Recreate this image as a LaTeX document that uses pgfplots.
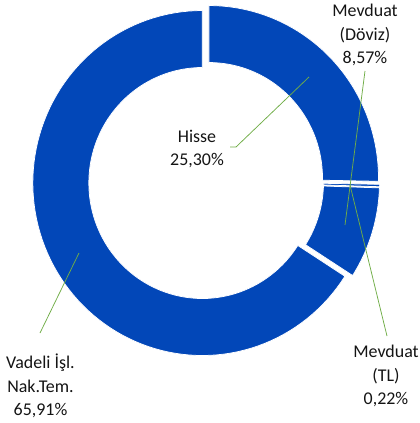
\documentclass[border=0pt]{standalone}
\usepackage{pgfplots}
\usepackage{pgfplotstable}
\pgfplotsset{compat=1.18}
\usepackage{fontspec}
\setmainfont{Carlito}
\definecolor{donutblue}{RGB}{2,71,184}
\definecolor{leadgreen}{RGB}{112,173,71}
\definecolor{txt}{RGB}{20,20,20}

\pgfplotstableread[col sep=comma]{
name,value
Hisse,25.30
MevduatTL,0.22
MevduatDoviz,8.57
Vadeli,65.91
}\donutdata

% geometry in pixel units (y downwards)
\def\cx{206}\def\cy{181}
\def\Rx{169.5}\def\Ry{172.5}
\def\rx{113.5}\def\ry{115.5}
\def\ex{4.2}

\newcommand{\ringslice}[2]{%
  \pgfmathsetmacro\ma{((#1)+(#2))/2}%
  \pgfmathsetmacro\ox{\cx+\ex*cos(\ma)}%
  \pgfmathsetmacro\oy{\cy-\ex*sin(\ma)}%
  \addplot[fill=donutblue, draw=white, line width=0.75bp, domain=0:3, samples=301, variable=\t]
  ({\ox + (\t<=1 ? \Rx : (\t<=2 ? \Rx+(\rx-\Rx)*(\t-1) : \rx))*cos(\t<=1 ? (#1)+((#2)-(#1))*\t : (\t<=2 ? (#2) : (#2)-((#2)-(#1))*(\t-2)))},
   {\oy - (\t<=1 ? \Ry : (\t<=2 ? \Ry+(\ry-\Ry)*(\t-1) : \ry))*sin(\t<=1 ? (#1)+((#2)-(#1))*\t : (\t<=2 ? (#2) : (#2)-((#2)-(#1))*(\t-2)))}) -- cycle;
}

\begin{document}
\begin{tikzpicture}
\pgfplotstablegetelem{0}{value}\of\donutdata \let\vA\pgfplotsretval
\pgfplotstablegetelem{1}{value}\of\donutdata \let\vB\pgfplotsretval
\pgfplotstablegetelem{2}{value}\of\donutdata \let\vC\pgfplotsretval
\pgfplotstablegetelem{3}{value}\of\donutdata \let\vD\pgfplotsretval
\pgfmathsetmacro\aA{90}
\pgfmathsetmacro\aB{\aA-3.6*\vA}
\pgfmathsetmacro\aC{\aB-3.6*\vB}
\pgfmathsetmacro\aD{\aC-3.6*\vC}
\pgfmathsetmacro\aE{\aD-3.6*\vD}
\begin{axis}[width=420bp, height=423bp, scale only axis,
  xmin=0, xmax=420, ymin=0, ymax=423, y dir=reverse,
  hide axis, clip=false]
\path (axis cs:0,0) rectangle (axis cs:420,423);
\ringslice{\aA}{\aB}
\ringslice{\aB}{\aC}
\ringslice{\aC}{\aD}
\ringslice{\aD}{\aE}
% leader lines
\addplot[leadgreen, line width=0.75bp] coordinates {(230,147) (236,147) (309,77)};
\addplot[leadgreen, line width=0.75bp] coordinates {(365,71) (345,225)};
\addplot[leadgreen, line width=0.75bp] coordinates {(387,336) (350,185)};
\addplot[leadgreen, line width=0.75bp] coordinates {(40,333) (79,253)};
% labels
\tikzset{lbl/.style={align=center, text=txt, font=\fontsize{18}{23.5}\selectfont, inner sep=0pt}}
\node[lbl] at (axis cs:197,149) {Hisse\\25,30\%};
\node[lbl] at (axis cs:365,35) {Mevduat\\(Döviz)\\8,57\%};
\node[lbl] at (axis cs:386,376) {Mevduat\\(TL)\\0,22\%};
\node[lbl] at (axis cs:40.5,386) {Vadeli İşl.\\Nak.Tem.\\65,91\%};
\end{axis}
\end{tikzpicture}
\end{document}
